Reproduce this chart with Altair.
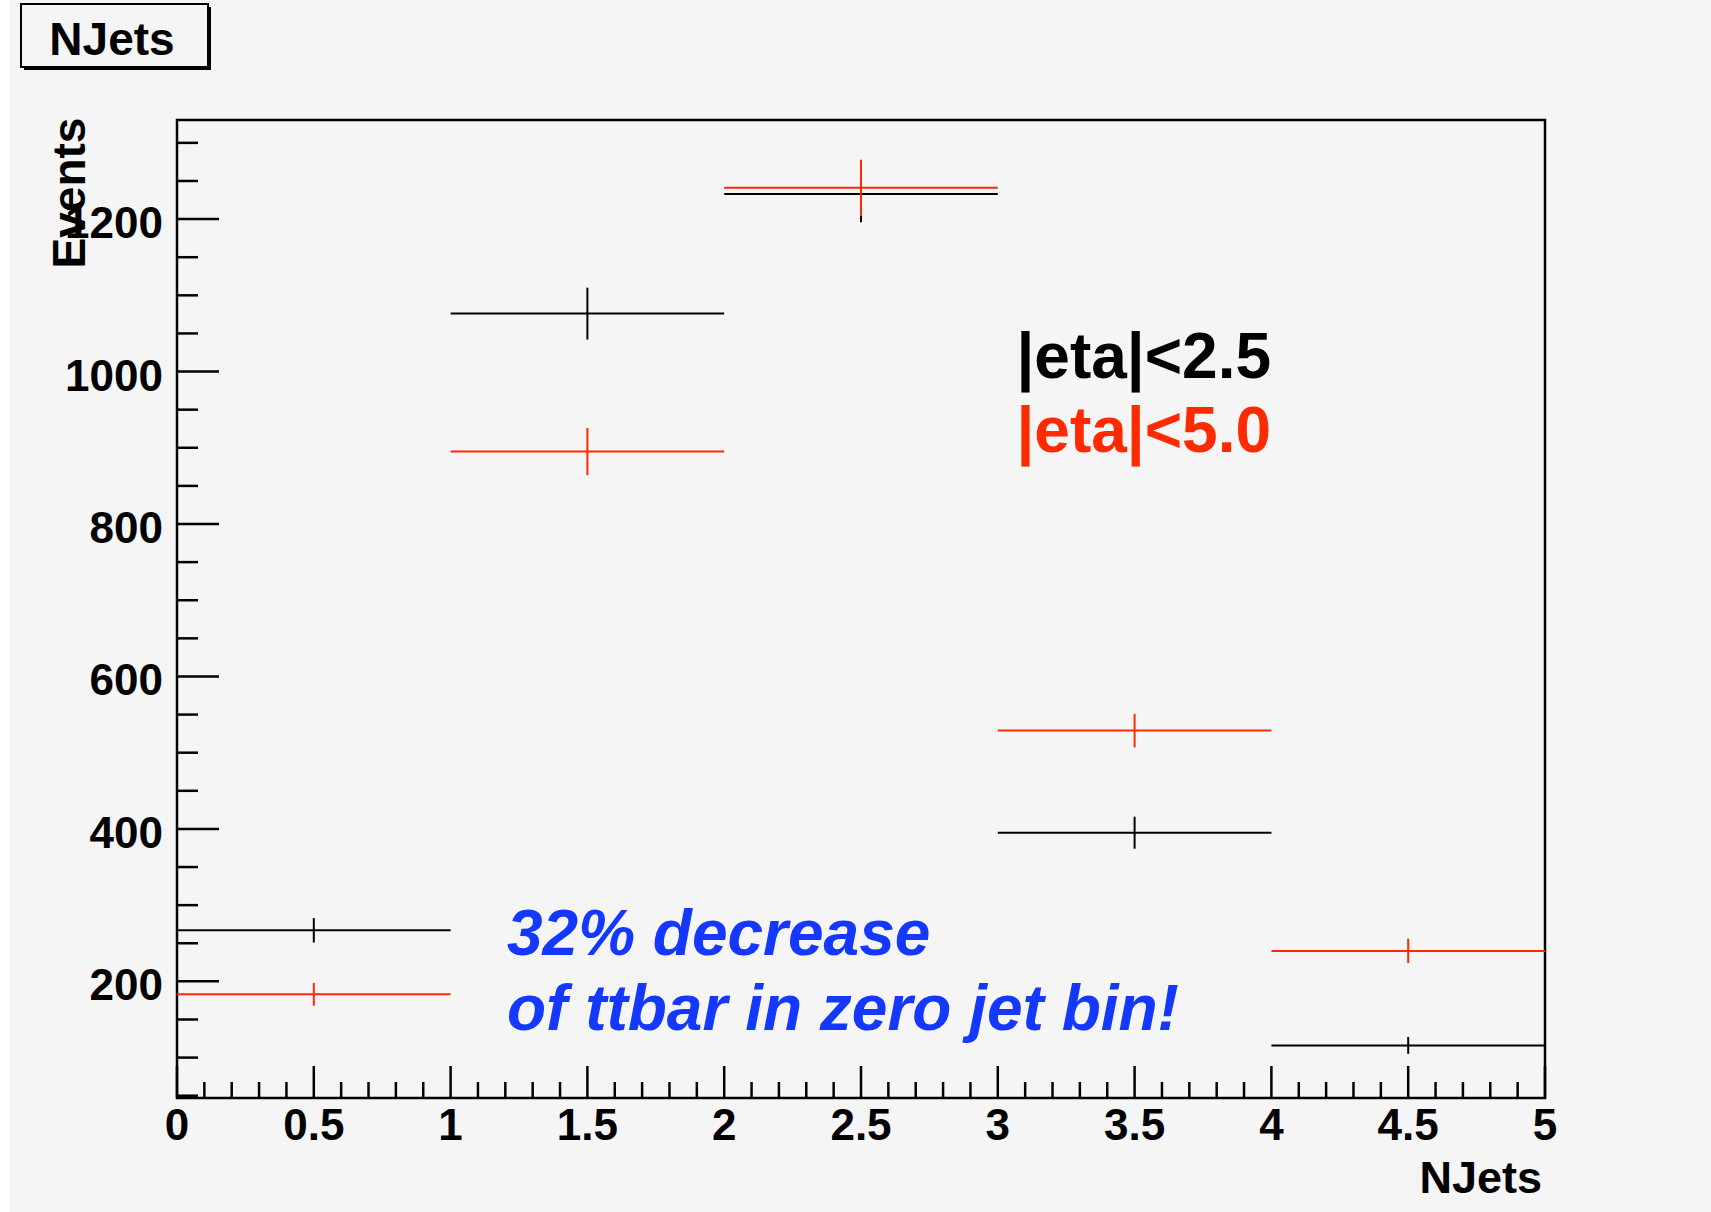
import altair as alt
import pandas as pd

# ---------------- data ----------------
bin_lo = [0, 1, 2, 3, 4]
bin_hi = [1, 2, 3, 4, 5]
bin_center = [0.5, 1.5, 2.5, 3.5, 4.5]
events_eta25 = [267, 1076, 1233, 395, 116]
errors_eta25 = [16, 34, 37, 21, 11]
events_eta50 = [183, 895, 1241, 529, 240]
errors_eta50 = [15, 31, 37, 22, 16]
series_names = ["|eta|<2.5", "|eta|<5.0"]
series_colors = ["#000000", "#ff2a00"]

x_major = [0, 0.5, 1, 1.5, 2, 2.5, 3, 3.5, 4, 4.5, 5]
x_labels = ["0", "0.5", "1", "1.5", "2", "2.5", "3", "3.5", "4", "4.5", "5"]
x_minor = [0.1, 0.2, 0.3, 0.4, 0.6, 0.7, 0.8, 0.9,
           1.1, 1.2, 1.3, 1.4, 1.6, 1.7, 1.8, 1.9,
           2.1, 2.2, 2.3, 2.4, 2.6, 2.7, 2.8, 2.9,
           3.1, 3.2, 3.3, 3.4, 3.6, 3.7, 3.8, 3.9,
           4.1, 4.2, 4.3, 4.4, 4.6, 4.7, 4.8, 4.9]
y_major = [200, 400, 600, 800, 1000, 1200]
y_labels = ["200", "400", "600", "800", "1000", "1200"]
y_minor = [50, 100, 150, 250, 300, 350, 450, 500, 550, 650, 700, 750,
           850, 900, 950, 1050, 1100, 1150, 1250, 1300]
x_title = "NJets"
y_title = "Events"
hist_title = "NJets"

label_x = [3.068, 3.068]
label_y = [992, 895]
note_lines = ["32% decrease", "of ttbar in zero jet bin!"]
note_x = [1.206, 1.206]
note_y = [234, 136]

# ---------------- tables ----------------
rows = []
for name, vals, errs in [(series_names[0], events_eta25, errors_eta25),
                         (series_names[1], events_eta50, errors_eta50)]:
    for lo, hi, c, v, e in zip(bin_lo, bin_hi, bin_center, vals, errs):
        rows.append(dict(series=name, lo=lo, hi=hi, center=c, value=v,
                         low=v - e, high=v + e))
df = pd.DataFrame(rows)

FONT = "Liberation Sans"
W, H = 1368, 978

xscale = alt.Scale(domain=[0, 5], nice=False, zero=False)
yscale = alt.Scale(domain=[47, 1330], nice=False, zero=False)
cscale = alt.Scale(domain=series_names, range=series_colors)


def X(field):
    return alt.X(field, type="quantitative", scale=xscale, axis=None)


def Y(field):
    return alt.Y(field, type="quantitative", scale=yscale, axis=None)


hbars = alt.Chart(df).mark_rule(strokeWidth=2).encode(
    x=X("lo"), x2="hi:Q", y=Y("value"),
    color=alt.Color("series:N", scale=cscale, legend=None),
)
vbars = alt.Chart(df).mark_rule(strokeWidth=2).encode(
    x=X("center"), y=Y("low"), y2="high:Q",
    color=alt.Color("series:N", scale=cscale, legend=None),
)

# inward ticks
TW = 2.5
xmaj = alt.Chart(pd.DataFrame({"t": x_major})).mark_rule(strokeWidth=TW, color="black").encode(
    x=X("t"), y=alt.value(H), y2=alt.value(H - 32))
xmin = alt.Chart(pd.DataFrame({"t": x_minor})).mark_rule(strokeWidth=TW, color="black").encode(
    x=X("t"), y=alt.value(H), y2=alt.value(H - 16))
ymaj = alt.Chart(pd.DataFrame({"t": y_major})).mark_rule(strokeWidth=TW, color="black").encode(
    y=Y("t"), x=alt.value(0), x2=alt.value(42))
ymin = alt.Chart(pd.DataFrame({"t": y_minor})).mark_rule(strokeWidth=TW, color="black").encode(
    y=Y("t"), x=alt.value(0), x2=alt.value(21))

# tick labels
xlab = alt.Chart(pd.DataFrame({"t": x_major, "s": x_labels})).mark_text(
    font=FONT, fontSize=44, fontWeight="bold", color="black",
    align="center", baseline="alphabetic").encode(
    x=X("t"), y=alt.value(H + 42), text="s:N")
ylab = alt.Chart(pd.DataFrame({"t": y_major, "s": y_labels})).mark_text(
    font=FONT, fontSize=44, fontWeight="bold", color="black",
    align="right", baseline="alphabetic", dy=19).encode(
    y=Y("t"), x=alt.value(-14), text="s:N")

one = pd.DataFrame({"a": [0]})
xtitle = alt.Chart(one).mark_text(text=x_title, font=FONT, fontSize=45, fontWeight="bold",
                                  color="black", align="right", baseline="alphabetic").encode(
    x=alt.value(1365), y=alt.value(1073))
ytitle = alt.Chart(one).mark_text(text=y_title, font=FONT, fontSize=46, fontWeight="bold",
                                  color="black", align="center", baseline="alphabetic",
                                  angle=270).encode(
    x=alt.value(-92), y=alt.value(73))

# legend-like labels
lab_df = pd.DataFrame({"x": label_x, "y": label_y, "text": series_names})
labels = alt.Chart(lab_df).mark_text(font=FONT, fontSize=64, fontWeight="bold",
                                     align="left", baseline="alphabetic").encode(
    x=X("x"), y=Y("y"), text="text:N",
    color=alt.Color("text:N", scale=cscale, legend=None),
)

note_df = pd.DataFrame({"x": note_x, "y": note_y, "text": note_lines})
notes = alt.Chart(note_df).mark_text(font=FONT, fontSize=64, fontWeight="bold",
                                     fontStyle="italic", align="left",
                                     baseline="alphabetic", color="#1438ff").encode(
    x=X("x"), y=Y("y"), text="text:N",
)

# title box (ROOT pave with shadow)
shadow = alt.Chart(one).mark_rect(color="black").encode(
    x=alt.value(-153), x2=alt.value(34), y=alt.value(-113), y2=alt.value(-50))
box = alt.Chart(one).mark_rect(fill="#f5f5f5", stroke="black", strokeWidth=2).encode(
    x=alt.value(-156), x2=alt.value(31), y=alt.value(-116), y2=alt.value(-53))
title_txt = alt.Chart(one).mark_text(text=hist_title, font=FONT, fontSize=46,
                                     fontWeight="bold", align="center",
                                     baseline="alphabetic", color="black").encode(
    x=alt.value(-65), y=alt.value(-65))
white_strip = alt.Chart(one).mark_rect(color="white").encode(
    x=alt.value(-177), x2=alt.value(-167), y=alt.value(-120), y2=alt.value(1092))

chart = alt.layer(
    white_strip, shadow, box, title_txt,
    hbars, vbars, xmaj, xmin, ymaj, ymin, xlab, ylab, xtitle, ytitle,
    labels, notes,
).properties(
    width=W, height=H,
    autosize=alt.AutoSizeParams(type="none"),
    padding={"left": 177, "top": 120, "right": 166, "bottom": 114},
    background="#f5f5f5",
).configure_view(stroke="black", strokeWidth=2.5)

chart.save("out.html", embed_options={"renderer": "svg", "actions": False})
